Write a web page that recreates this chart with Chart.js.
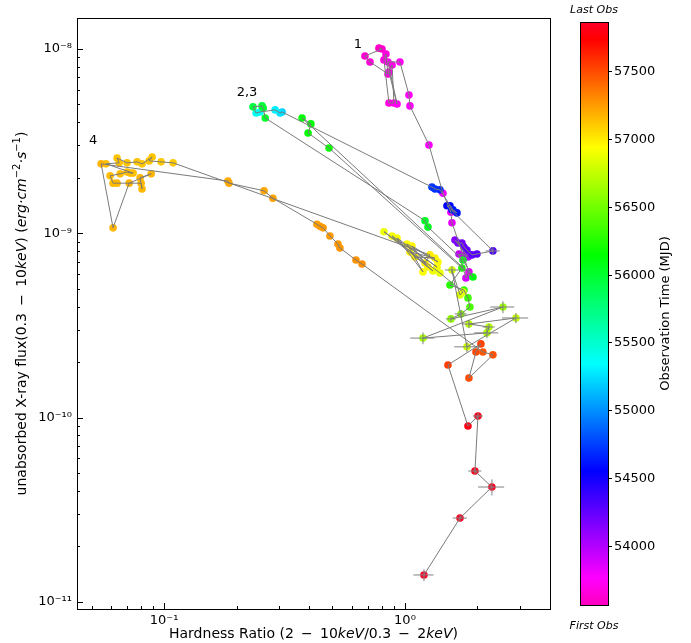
<!DOCTYPE html>
<html><head><meta charset="utf-8">
<script src="https://cdn.jsdelivr.net/npm/chart.js@4"></script>
<style>html,body{margin:0;padding:0;background:#fff}#wrap{width:691px;height:643px;position:relative}</style>
</head><body><div id="wrap"><canvas id="c" width="691" height="643"></canvas></div>
<script>
// ---------- DATA ----------
const hardness = [
 0.780,0.803,0.682,0.716,0.850,0.834,0.818,0.858,0.900,0.884,0.858,0.927,0.850,0.953,1.039,1.049,1.258,1.438,1.552,1.567,1.843,1.791,
 1.676,1.774,1.826,
 1.613,1.660,1.724,1.758,1.808,1.897,1.990,2.318,
 1.494,1.537,1.567,1.644,1.582,1.397,1.332,1.294,
 0.309,0.303,0.289,0.250,0.241,
 0.234,0.255,0.258,0.263,1.211,1.246,1.741,1.915,0.374,0.407,0.396,0.484,1.724,1.537,1.758,1.826,1.861,
 1.708,1.552,2.551,1.188,2.189,2.231,1.843,2.888,1.808,1.567,1.692,1.741,
 1.397,0.818,1.307,0.884,1.358,0.927,1.188,1.019,1.371,1.069,1.246,1.049,1.332,1.100,1.211,1.270,
 0.109,0.0972,0.0867,0.0892,0.0810,0.0773,0.0702,0.0638,0.0651,0.0574,0.0744,0.0723,0.0702,0.0657,0.0597,0.0614,0.0638,0.0803,0.0810,0.0795,0.0884,0.0716,0.0614,0.0548,
 0.184,0.186,0.260,0.283,0.431,0.444,0.457,0.488,0.527,0.537,0.626,0.663,
 2.107,2.318,1.843,1.971,2.067,1.508,
 1.826,2.009,1.952,2.296,1.692,1.199
];
const flux = [
 1.01e-8,1.00e-8,9.16e-9,8.50e-9,7.32e-9,9.39e-9,8.72e-9,5.09e-9,5.09e-9,8.19e-9,7.50e-9,5.03e-9,8.50e-9,8.50e-9,5.63e-9,4.91e-9,3.01e-9,1.65e-9,1.30e-9,1.14e-9,6.17e-10,5.72e-10,
 7.72e-10,7.63e-10,7.44e-10,
 9.20e-10,8.86e-10,8.86e-10,8.43e-10,8.11e-10,7.63e-10,7.72e-10,8.02e-10,
 1.41e-9,1.41e-9,1.34e-9,1.29e-9,1.34e-9,1.72e-9,1.74e-9,1.78e-9,
 4.55e-9,4.49e-9,4.67e-9,4.55e-9,4.49e-9,
 4.85e-9,4.91e-9,4.78e-9,4.22e-9,1.17e-9,1.08e-9,7.16e-10,5.79e-10,4.22e-9,3.92e-9,3.50e-9,2.90e-9,6.48e-10,5.24e-10,4.92e-10,4.46e-10,3.98e-10,
 3.65e-10,3.43e-10,3.98e-10,2.70e-10,2.88e-10,3.10e-10,3.22e-10,3.47e-10,2.42e-10,6.32e-10,4.63e-10,4.80e-10,
 6.09e-10,1.02e-9,6.24e-10,9.67e-10,6.56e-10,9.43e-10,6.17e-10,8.75e-10,6.99e-10,8.53e-10,6.56e-10,7.92e-10,7.34e-10,7.44e-10,6.90e-10,7.63e-10,
 2.41e-9,2.44e-9,2.47e-9,2.59e-9,2.38e-9,2.44e-9,2.41e-9,2.56e-9,2.41e-9,2.38e-9,2.12e-9,2.12e-9,2.15e-9,2.10e-9,2.05e-9,1.87e-9,1.87e-9,1.87e-9,1.74e-9,2.00e-9,2.10e-9,1.87e-9,1.07e-9,2.38e-9,
 1.92e-9,1.87e-9,1.70e-9,1.55e-9,1.12e-9,1.09e-9,1.07e-9,9.67e-10,8.75e-10,8.32e-10,7.16e-10,6.81e-10,
 2.27e-10,2.19e-10,1.64e-10,2.27e-10,2.51e-10,1.93e-10,
 9.00e-11,1.02e-10,5.13e-11,4.20e-11,2.85e-11,1.40e-11
];
const mjd = [
 53600,53610,53625,53640,53650,53660,53670,53680,53690,53700,53710,53720,53730,53740,53750,53760,53780,53800,53820,53840,53870,53900,
 53950,53980,54010,
 54150,54180,54210,54230,54250,54270,54290,54310,
 54560,54580,54600,54620,54640,54670,54700,54720,
 55200,55250,55300,55350,55400,
 55950,55970,55990,56010,56030,56050,56080,56100,56130,56140,56150,56170,56220,56260,56300,56340,56380,
 56560,56590,56620,56650,56680,56700,56720,56740,56760,56790,56820,56840,
 56870,56880,56890,56900,56910,56920,56930,56940,56950,56960,56970,56975,56980,56985,56990,56995,
 57100,57105,57110,57113,57116,57119,57122,57125,57128,57131,57134,57137,57140,57143,57146,57149,57152,57155,57158,57160,57163,57166,57169,57172,
 57200,57205,57215,57225,57240,57245,57250,57255,57260,57265,57275,57285,
 57460,57475,57490,57505,57520,57540,
 57800,57812,57824,57834,57843,57852
];
// symmetric error bars (0 = none)
const hardnessErr = [
 0,0,0,0,0,0,0,0,0,0,0,0,0,0,0,0,0,0,0,0,0,0,
 0,0,0,
 0,0,0,0,0,0,0,0.155,
 0,0,0,0,0,0,0,0,
 0,0,0,0,0,
 0,0,0,0,0,0,0,0,0,0,0,0,0,0,0,0,0,
 0.098,0.074,0.292,0.136,0.251,0.128,0.123,0.359,0.207,0.105,0,0,
 0,0,0,0,0,0,0,0,0,0,0,0,0,0,0,0,
 0,0,0,0,0,0,0,0,0,0,0,0,0,0,0,0,0,0,0,0,0,0,0,0,
 0,0,0,0,0,0,0,0,0,0,0,0,
 0,0,0,0,0,0,
 0,0.096,0.121,0.285,0.113,0.115
];
const fluxErr = [
 0,0,0,0,0,0,0,0,0,0,0,0,0,0,0,0,0,0,0,0,0,0,
 0,0,0,
 0,0,0,0,0,0,0,0.4e-10,
 0,0,0,0,0,0,0,0,
 0,0,0,0,0,
 0,0,0,0,0,0,0,0,0,0,0,0,0,0,0,0,0,
 0.18e-10,0.13e-10,0.30e-10,0.20e-10,0.18e-10,0.12e-10,0.16e-10,0.22e-10,0.15e-10,0.32e-10,0,0,
 0,0,0,0,0,0,0,0,0,0,0,0,0,0,0,0,
 0,0,0,0,0,0,0,0,0,0,0,0,0,0,0,0,0,0,0,0,0,0,0,0,
 0,0,0,0,0,0,0,0,0,0,0,0,
 0,0,0,0,0,0,
 0,0.04e-10,0.19e-11,0.42e-11,0.11e-11,0.105e-11
];
const groupLabels = ['1','2,3','4'];
const groupLabelHR = [0.638,0.221,0.0507];
const groupLabelFlux = [1.05e-8,5.77e-9,3.17e-9];
const xTicks = [0.1, 1];
const xTickLabels = ['10⁻¹','10⁰'];
const yTicks = [1e-11,1e-10,1e-9,1e-8];
const yTickLabels = ['10⁻¹¹','10⁻¹⁰','10⁻⁹','10⁻⁸'];
const cbTicks = [54000,54500,55000,55500,56000,56500,57000,57500];
const cbRange = [53566, 57860];
const xRange = [0.0435, 4.0];
const yRange = [9.15e-12, 1.472e-8];

// ---------- STYLE ----------
const FAM = "'DejaVu Sans', sans-serif";
const GR = [[0,1,0,0.16],[0.03,1,0,0],[0.215,1,1,0],[0.4,0,1,0],[0.586,0,1,1],[0.77,0,0,1],[0.954,1,0,1],[1,1,0,0.75]];
function cmapFrac(p){
  p=Math.max(0,Math.min(1,p)); const t=1-p;
  for(let i=1;i<GR.length;i++){
    if(t<=GR[i][0]){
      const a=GR[i-1], b=GR[i], f=(t-a[0])/(b[0]-a[0]);
      const c=[1,2,3].map(k=>Math.round((a[k]+(b[k]-a[k])*f)*255));
      return `rgb(${c[0]},${c[1]},${c[2]})`;
    }
  }
  return 'rgb(255,0,191)';
}
const cmap = v => cmapFrac((v-cbRange[0])/(cbRange[1]-cbRange[0]));
const CB = {left:580, right:608, top:22, bottom:605};

function drawRich(ctx, segs, size, cx, cy, rot){
  ctx.save(); ctx.translate(cx,cy); if(rot) ctx.rotate(rot);
  const fontFor = s => `${s.i?'italic ':''}${s.sup?Math.round(size*0.7):size}px ${FAM}`;
  let w=0; segs.forEach(s=>{ctx.font=fontFor(s); s.w=ctx.measureText(s.t).width; w+=s.w;});
  let x=-w/2; ctx.textBaseline='alphabetic'; ctx.textAlign='left'; ctx.fillStyle='#000';
  segs.forEach(s=>{ctx.font=fontFor(s); ctx.fillText(s.t, x, s.sup? size*0.35-size*0.42 : size*0.35); x+=s.w;});
  ctx.restore();
}
const xTitle = [{t:'Hardness Ratio (2 \u2009−\u2009 10'},{t:'keV',i:1},{t:'/0.3 \u2009−\u2009 2'},{t:'keV',i:1},{t:')'}];
const yTitle = [{t:'unabsorbed X-ray flux(0.3 \u2009−\u2009 10'},{t:'keV',i:1},{t:') ('},{t:'erg·cm',i:1},{t:'−2',sup:1},{t:'·s',i:1},{t:'−1',sup:1},{t:')'}];

const pts = hardness.map((h,i)=>({x:h,y:flux[i]}));

const decor = {
  id:'decor',
  afterDatasetsDraw(chart){
    const ctx=chart.ctx, xs=chart.scales.x, ys=chart.scales.y;
    ctx.save();
    ctx.strokeStyle='#808080'; ctx.lineWidth=1;
    pts.forEach((p,i)=>{
      const px=xs.getPixelForValue(p.x), py=ys.getPixelForValue(p.y);
      if(hardnessErr[i]>0){ctx.beginPath();ctx.moveTo(xs.getPixelForValue(p.x-hardnessErr[i]),py);ctx.lineTo(xs.getPixelForValue(p.x+hardnessErr[i]),py);ctx.stroke();}
      if(fluxErr[i]>0){ctx.beginPath();ctx.moveTo(px,ys.getPixelForValue(p.y-fluxErr[i]));ctx.lineTo(px,ys.getPixelForValue(p.y+fluxErr[i]));ctx.stroke();}
    });
    ctx.restore();
  },
  afterDraw(chart){
    const ctx=chart.ctx, xs=chart.scales.x, ys=chart.scales.y, a=chart.chartArea;
    ctx.save();
    ctx.strokeStyle='#000'; ctx.lineWidth=1;
    ctx.strokeRect(Math.round(a.left)+0.5, Math.round(a.top)+0.5, Math.round(a.right-a.left), Math.round(a.bottom-a.top));
    const minorVals=(lo,hi)=>{const out=[];for(let d=Math.floor(Math.log10(lo));d<=Math.ceil(Math.log10(hi));d++){for(let k=1;k<10;k++){const v=k*Math.pow(10,d);if(v>=lo&&v<=hi)out.push([v,k===1]);}}return out;};
    minorVals(xRange[0],xRange[1]).forEach(([v,maj])=>{const px=Math.round(xs.getPixelForValue(v))+0.5;const L=maj?6:3;
      ctx.beginPath();ctx.moveTo(px,a.bottom);ctx.lineTo(px,a.bottom-L);ctx.stroke();});
    minorVals(yRange[0],yRange[1]).forEach(([v,maj])=>{const py=Math.round(ys.getPixelForValue(v))+0.5;const L=maj?6:3;
      ctx.beginPath();ctx.moveTo(a.left,py);ctx.lineTo(a.left+L,py);ctx.stroke();});
    ctx.fillStyle='#000'; ctx.font=`13px ${FAM}`; ctx.textAlign='center'; ctx.textBaseline='middle';
    groupLabels.forEach((t,i)=>ctx.fillText(t, xs.getPixelForValue(groupLabelHR[i]), ys.getPixelForValue(groupLabelFlux[i])));
    drawRich(ctx, xTitle, 14, (a.left+a.right)/2, 633, 0);
    drawRich(ctx, yTitle, 14, 21, (a.top+a.bottom)/2, -Math.PI/2);
    const H=CB.bottom-CB.top;
    for(let yy=0; yy<H; yy++){ctx.fillStyle=cmapFrac(1-(yy+0.5)/H); ctx.fillRect(CB.left, CB.top+yy, CB.right-CB.left, 1);}
    ctx.strokeStyle='#000'; ctx.lineWidth=1; ctx.strokeRect(CB.left+0.5, CB.top+0.5, CB.right-CB.left, H);
    ctx.font=`13px ${FAM}`; ctx.textAlign='left'; ctx.textBaseline='middle'; ctx.fillStyle='#000';
    cbTicks.forEach(v=>{const py=Math.round(CB.bottom-(v-cbRange[0])/(cbRange[1]-cbRange[0])*H)+0.5;
      ctx.beginPath();ctx.moveTo(CB.right,py);ctx.lineTo(CB.right+4,py);ctx.stroke();
      ctx.fillText(String(v), CB.right+6, py);});
    ctx.save(); ctx.translate(666,(CB.top+CB.bottom)/2); ctx.rotate(-Math.PI/2); ctx.textAlign='center'; ctx.textBaseline='middle';
    ctx.font=`13px ${FAM}`; ctx.fillText('Observation Time (MJD)',0,0); ctx.restore();
    ctx.font=`italic 11px ${FAM}`; ctx.textAlign='center'; ctx.textBaseline='middle';
    ctx.fillText('Last Obs',(CB.left+CB.right)/2,10);
    ctx.fillText('First Obs',(CB.left+CB.right)/2,626);
    ctx.restore();
  }
};

new Chart(document.getElementById('c'), {
  type:'scatter',
  data:{datasets:[
    {type:'line', data:pts, borderColor:'#7a7a7a', borderWidth:1, pointRadius:0, fill:false, tension:0, order:0},
    {type:'scatter', data:pts, pointRadius:3.8, pointBackgroundColor:mjd.map(cmap), pointBorderWidth:0, order:1}
  ]},
  options:{
    responsive:false, animation:false, devicePixelRatio:1,
    layout:{padding:{left:0,top:18,right:141,bottom:0}},
    plugins:{legend:{display:false}, tooltip:{enabled:false}},
    scales:{
      x:{type:'logarithmic', min:xRange[0], max:xRange[1],
         grid:{display:false, drawTicks:false}, border:{display:false},
         ticks:{font:{family:FAM,size:13}, color:'#000', padding:4, maxRotation:0, autoSkip:false,
                callback:(v)=>{const i=xTicks.indexOf(v); return i>=0?xTickLabels[i]:'';}},
         afterBuildTicks:s=>{s.ticks=xTicks.map(v=>({value:v}));},
         afterFit:s=>{s.height=34;}},
      y:{type:'logarithmic', min:yRange[0], max:yRange[1],
         grid:{display:false, drawTicks:false}, border:{display:false},
         ticks:{font:{family:FAM,size:13}, color:'#000', padding:5, autoSkip:false,
                callback:(v)=>{const i=yTicks.findIndex(t=>Math.abs(t-v)/t<1e-6); return i>=0?yTickLabels[i]:'';}},
         afterBuildTicks:s=>{s.ticks=yTicks.map(v=>({value:v}));},
         afterFit:s=>{s.width=77;}}
    }
  },
  plugins:[decor]
});
</script></body></html>
